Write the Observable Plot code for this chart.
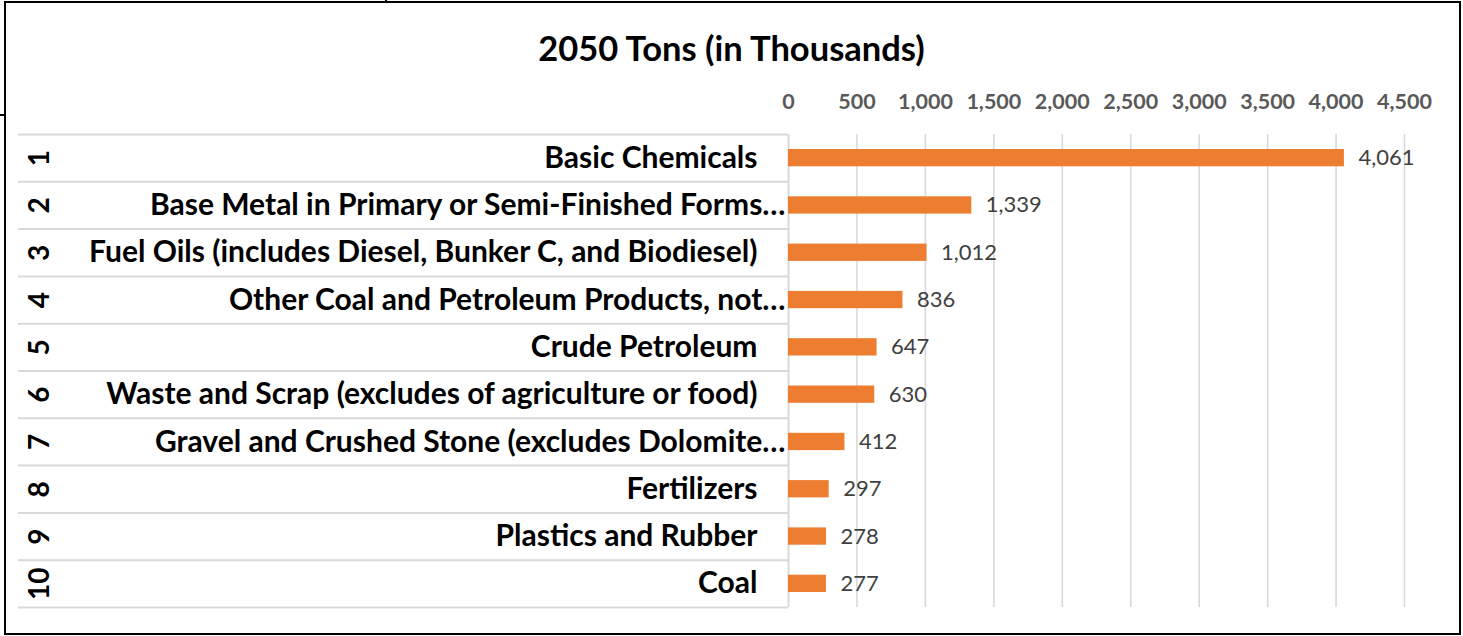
<!DOCTYPE html>
<html><head><meta charset="utf-8">
<script src="https://cdn.jsdelivr.net/npm/d3@7"></script>
<script src="https://cdn.jsdelivr.net/npm/@observablehq/plot@0.6"></script>
<style>
body{margin:0;background:#fff;}
#wrap{position:relative;width:1463px;height:636px;overflow:hidden;font-family:Lato,"Open Sans",sans-serif;}
#border{position:absolute;left:4px;top:1px;width:1457px;height:634px;border:2px solid #000;box-sizing:border-box;pointer-events:none;}
#title{position:absolute;left:0;top:27px;width:1463px;text-align:center;font-weight:bold;font-size:34.5px;color:#000;line-height:42px;}
.layer{position:absolute;left:0;top:0;}
.stray{position:absolute;background:#000;}
</style></head>
<body>
<div id="wrap">
  <div id="chart" class="layer"></div>
  <div id="table" class="layer"></div>
  <div id="title">2050 Tons (in Thousands)</div>
  <div id="border"></div>
  <div class="stray" style="left:0;top:114px;width:5px;height:2px;"></div>
  <div class="stray" style="left:385px;top:0;width:2px;height:3px;"></div>
</div>
<script>
const ranks = [1, 2, 3, 4, 5, 6, 7, 8, 9, 10];
const categories = [
  "Basic Chemicals",
  "Base Metal in Primary or Semi-Finished Forms…",
  "Fuel Oils (includes Diesel, Bunker C, and Biodiesel)",
  "Other Coal and Petroleum Products, not…",
  "Crude Petroleum",
  "Waste and Scrap (excludes of agriculture or food)",
  "Gravel and Crushed Stone (excludes Dolomite…",
  "Fertilizers",
  "Plastics and Rubber",
  "Coal"
];
const values = [4061, 1339, 1012, 836, 647, 630, 412, 297, 278, 277];
const tickValues = [0, 500, 1000, 1500, 2000, 2500, 3000, 3500, 4000, 4500];

const data = ranks.map((r, i) => ({rank: r, name: categories[i], value: values[i]}));
const fmt = d3.format(",");
const truncated = d => d.name.endsWith("…");
const boundaries = [ranks[0] - 0.5, ...ranks.map(r => r + 0.5)];
const font = "Lato, 'Open Sans', sans-serif";
const yScale = {domain: [0.5, 10.5], reverse: true, axis: null};

// Bars, grid, x axis and value labels
const chart = Plot.plot({
  width: 1463,
  height: 636,
  marginLeft: 788,
  marginRight: 59,
  marginTop: 134,
  marginBottom: 29,
  style: {fontFamily: font, background: "transparent"},
  x: {domain: [0, 4500]},
  y: yScale,
  marks: [
    Plot.ruleX(tickValues.slice(1), {stroke: "#d9d9d9", strokeWidth: 1.6}),
    Plot.ruleX([0], {stroke: "#d9d9d9", strokeWidth: 2}),
    Plot.rect(data, {x1: 0, x2: "value", y1: d => d.rank - 0.5, y2: d => d.rank + 0.5, insetTop: 15, insetBottom: 15, fill: "#ed7d31"}),
    Plot.text(data, {x: "value", y: "rank", text: d => fmt(d.value), dx: 14, textAnchor: "start", fill: "#404040", fontSize: 22}),
    Plot.axisX({anchor: "top", ticks: tickValues, tickFormat: fmt, tickSize: 0, tickPadding: 26, fontSize: 21.5, fontWeight: "bold", fill: "#595959", label: null})
  ]
});
document.getElementById("chart").appendChild(chart);

// Category table on the left: row separators, rank numbers, names
const table = Plot.plot({
  width: 788,
  height: 636,
  marginLeft: 18,
  marginRight: 0,
  marginTop: 134,
  marginBottom: 29,
  style: {fontFamily: font, background: "transparent", overflow: "visible"},
  y: yScale,
  marks: [
    Plot.ruleY(boundaries, {stroke: "#d9d9d9", strokeWidth: 2}),
    Plot.text(data.filter(d => !truncated(d)), {y: "rank", text: "name", frameAnchor: "right", dx: -31, textAnchor: "end", fill: "#000", fontSize: 30, fontWeight: "bold"}),
    Plot.text(data.filter(truncated), {y: "rank", text: "name", frameAnchor: "right", dx: -3, textAnchor: "end", fill: "#000", fontSize: 30, fontWeight: "bold"}),
    Plot.text(ranks, {y: d => d, text: d => String(d), frameAnchor: "left", textAnchor: "middle", lineAnchor: "middle", dx: 22, rotate: -90, fill: "#000", fontSize: 28, fontWeight: "bold"})
  ]
});
document.getElementById("table").appendChild(table);
</script>
</body></html>
